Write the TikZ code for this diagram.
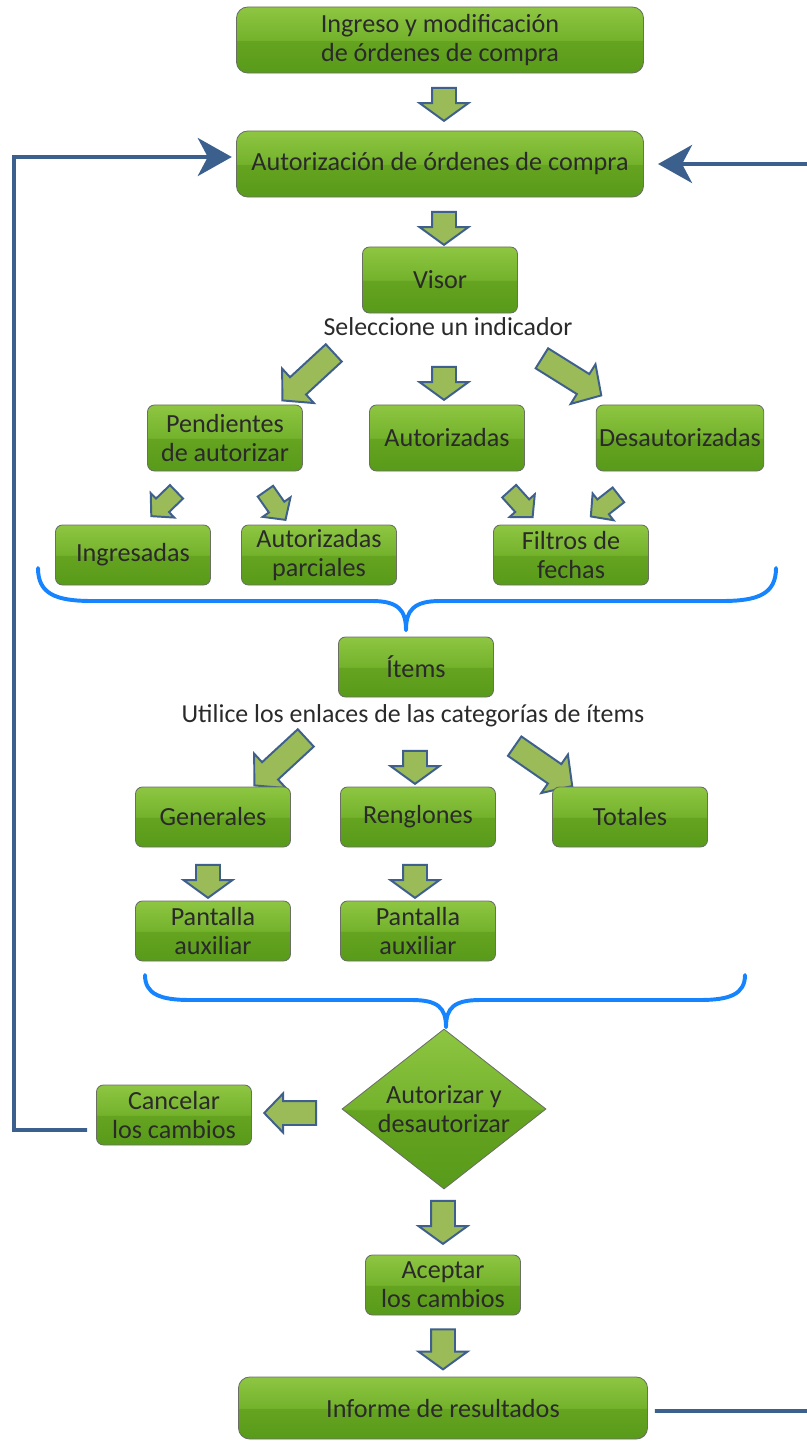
\documentclass[tikz,border=0pt]{standalone}
\usepackage{xcolor}
\usepackage{fontspec}
\setmainfont{Carlito}
\usepackage{tikz}
\usetikzlibrary{shapes.geometric, shapes.arrows, arrows.meta, positioning, calc}
\definecolor{gtop}{RGB}{142,198,66}
\definecolor{gmidhi}{RGB}{116,178,44}
\definecolor{gmidlo}{RGB}{101,164,32}
\definecolor{gbot}{RGB}{88,154,26}
\definecolor{boxedge}{RGB}{105,112,98}
\definecolor{boxtext}{RGB}{42,42,42}
\definecolor{arrfill}{RGB}{155,187,89}
\definecolor{arredge}{RGB}{63,96,140}
\definecolor{mynavy}{RGB}{59,96,142}
\definecolor{mybrace}{RGB}{22,132,255}
\pgfdeclareverticalshading{glossy}{100bp}{color(0bp)=(gbot); color(25bp)=(gbot);
  color(49.6bp)=(gmidlo); color(50bp)=(gmidhi); color(75bp)=(gtop); color(100bp)=(gtop)}
\tikzset{
  box/.style={rectangle, draw=boxedge, shading=glossy, line width=0.6pt,
    minimum width=3.875cm, minimum height=1.5cm, rounded corners=5pt,
    align=center, text=boxtext, inner sep=2pt,
    font=\fontsize{18.6}{20.6}\selectfont},
  tallbox/.style={box, minimum height=1.65cm},
  widebox/.style={box, minimum width=10.175cm, minimum height=1.65cm, rounded corners=8pt},
  decision/.style={diamond, draw=boxedge, shading=glossy, line width=0.6pt,
    minimum width=5.1cm, minimum height=4cm, inner sep=0pt},
  decisiontext/.style={align=center, text=boxtext, font=\fontsize{18.6}{20.6}\selectfont},
  hint/.style={text=boxtext, font=\fontsize{18.4}{20}\selectfont},
  blkarrow/.style={single arrow, draw=arredge, fill=arrfill, line width=1.4pt,
    inner xsep=0pt, single arrow head indent=0pt},
  downarr/.style={blkarrow, minimum height=0.825cm, inner ysep=0.275cm,
    single arrow head extend=0.31cm, single arrow tip angle=108},
  diagarr/.style={blkarrow, minimum height=1.75cm, inner ysep=0.27cm,
    single arrow head extend=0.29cm, single arrow tip angle=95},
  smallarr/.style={blkarrow, minimum height=0.875cm, inner ysep=0.21cm,
    single arrow head extend=0.19cm, single arrow tip angle=95},
  sidearr/.style={blkarrow, minimum height=1.3cm, inner ysep=0.275cm,
    single arrow head extend=0.19cm, single arrow tip angle=92},
  brace/.style={draw=mybrace, line width=2.8pt, line cap=round},
  fbline/.style={draw=mynavy, line width=2.8pt},
  fbarrow/.style={fbline, -{Stealth[length=0.85cm, width=0.95cm, inset=0.25cm]}}
}

\begin{document}
\begin{tikzpicture}[x=0.025cm, y=-0.025cm]
  \useasboundingbox (0,0) rectangle (807,1441);

  % Entrada y autorizacion
  \node[widebox] (ingreso) at (440,40) {Ingreso y modificación\\de órdenes de compra};
  \node[downarr, rotate=-90] (a1) at (444,100) {};
  \node[widebox] (autoriz) at (440,164) {Autorización de órdenes de compra};
  \node[downarr, rotate=-90] (a2) at (444,224) {};

  % Visor y sus indicadores
  \node[tallbox] (visor) at (440,280) {Visor};
  \node[hint] (selec) at (448,327) {Seleccione un indicador};
  \node[diagarr, rotate=222.7] (a3) at (312,373) {};
  \node[downarr, rotate=-90] (a4) at (444,379) {};
  \node[diagarr, rotate=-32] (a5) at (567,374) {};
  \node[tallbox] (pend) at (225,438) {Pendientes\\de autorizar};
  \node[tallbox] (autz) at (447,438) {Autorizadas};
  \node[tallbox, minimum width=4.175cm] (desaut) at (680,438) {Desautorizadas};

  \node[smallarr, rotate=224] (s1) at (167,501) {};
  \node[smallarr, rotate=-55] (s2) at (273,502) {};
  \node[smallarr, rotate=-48] (s3) at (518,501) {};
  \node[smallarr, rotate=218] (s4) at (608,503) {};
  \node[box] (ingres) at (133,555) {Ingresadas};
  \node[box] (parc) at (319,555) {Autorizadas\\parciales};
  \node[box] (filtros) at (571,555) {Filtros de\\fechas};

  % Llave hacia items
  \draw[brace] (38,568) .. controls (38,594) and (56,601) .. (92,601) -- (372,601)
    .. controls (398,601) and (406,610) .. (406,630);
  \draw[brace] (776,568) .. controls (776,594) and (758,601) .. (722,601) -- (440,601)
    .. controls (414,601) and (406,610) .. (406,630);

  % Items
  \node[box] (items) at (416,667) {Ítems};
  \node[hint] (utilice) at (413,716) {Utilice los enlaces de las categorías de ítems};
  \node[diagarr, rotate=222.7] (b3) at (284,758) {};
  \node[downarr, rotate=-90] (b4) at (415,763) {};
  \node[diagarr, rotate=-34.7] (b5) at (539,763) {};
  \node[box] (gen) at (213,817) {Generales};
  \node[box] (reng) at (418,817) {Renglones};
  \node[box] (tot) at (630,817) {Totales};
  \node[downarr, rotate=-90] (d1) at (208,877) {};
  \node[downarr, rotate=-90] (d2) at (415,877) {};
  \node[box] (pant1) at (213,931) {Pantalla\\auxiliar};
  \node[box] (pant2) at (418,931) {Pantalla\\auxiliar};

  % Llave hacia la decision
  \draw[brace] (145,975) .. controls (145,994) and (160,1000) .. (190,1000) -- (412,1000)
    .. controls (438,1000) and (446,1008) .. (446,1027);
  \draw[brace] (745,975) .. controls (745,994) and (730,1000) .. (700,1000) -- (480,1000)
    .. controls (454,1000) and (446,1008) .. (446,1027);

  % Decision
  \node[decision] (decide) at (444,1109) {};
  \node[decisiontext] (decidetxt) at (decide) {Autorizar y\\desautorizar};
  \node[sidearr, rotate=180] (c1) at (296,1113) {};
  \node[box] (cancel) at (174,1115) {Cancelar\\los cambios};
  \node[downarr, minimum height=1.075cm, rotate=-90] (e1) at (443,1218) {};
  \node[box] (acept) at (443,1285) {Aceptar\\los cambios};
  \node[downarr, minimum height=1cm, rotate=-90] (e2) at (443,1345) {};
  \node[widebox, minimum width=10.225cm, minimum height=1.55cm] (informe) at (443,1408) {Informe de resultados};

  % Retornos
  \coordinate (fbleft) at (14,157);
  \coordinate (fbright) at (840,1411);
  \draw[fbarrow, shorten >=3pt] ([xshift=-0.225cm, yshift=-0.375cm]cancel.west) -| (fbleft)
    -- ([yshift=0.175cm]autoriz.west);
  \draw[fbarrow, shorten >=10pt] ([xshift=0.175cm, yshift=-0.075cm]informe.east) -- (fbright)
    |- (autoriz.east);
\end{tikzpicture}
\end{document}
